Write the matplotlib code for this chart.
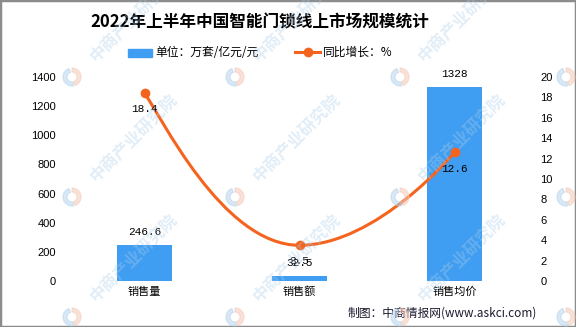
import matplotlib.pyplot as plt
from matplotlib.path import Path
from matplotlib.patches import PathPatch, Rectangle, Wedge
from matplotlib.lines import Line2D

plt.rcParams['font.family'] = ['Noto Sans CJK SC', 'DejaVu Sans']

# data
categories = ['销售量', '销售额', '销售均价']
values = [246.6, 32.5, 1328]
growth = [18.4, 3.5, 12.6]
left_ticks = [0, 200, 400, 600, 800, 1000, 1200, 1400]
right_ticks = [0, 2, 4, 6, 8, 10, 12, 14, 16, 18, 20]

bar_color = '#409ef2'
line_color = '#f5641e'

fig = plt.figure(figsize=(5.76, 3.27), dpi=100)
ax = fig.add_axes([67 / 576, 1 - 281 / 327, 465 / 576, 204 / 327])
ax2 = ax.twinx()

x = list(range(len(categories)))
ax.bar(x, values, width=0.355, color=bar_color, zorder=2)
for xi, v in zip(x, values):
    ax.annotate(f'{v:g}', (xi, v), xytext=(0, 6), textcoords='offset points',
                ha='center', va='bottom', fontsize=8, family='Liberation Mono')

ax.set_xlim(-0.5, 2.5)
ax.set_ylim(0, 1400)
ax.set_yticks(left_ticks)
ax.set_xticks(x)
ax.set_xticklabels(categories, fontsize=9)
ax2.set_ylim(0, 20)
ax2.set_yticks(right_ticks)

for a in (ax, ax2):
    for s in a.spines.values():
        s.set_visible(False)
    a.tick_params(length=0, labelsize=8)
    for lab in a.get_yticklabels():
        lab.set_family('Liberation Sans')
ax.tick_params(axis='y', pad=8)
ax.tick_params(axis='x', pad=4)
ax2.tick_params(axis='y', pad=6)

# smooth line (bezier through the points, horizontal tangent at the middle)
verts = [(x[0], growth[0]), (x[0] + 0.1, growth[0] - 2), (x[1] - 0.5, growth[1]), (x[1], growth[1]),
         (x[1] + 0.5, growth[1]), (x[2], growth[2]), (x[2], growth[2])]
codes = [Path.MOVETO] + [Path.CURVE4] * 6
ax2.add_patch(PathPatch(Path(verts, codes), fill=False, edgecolor=line_color, lw=2.2, zorder=3))
ax2.plot(x, growth, 'o', color=line_color, ms=6, zorder=4)
for xi, g in zip(x, growth):
    ax2.annotate(f'{g:g}', (xi, g), xytext=(0, -8), textcoords='offset points',
                 ha='center', va='top', fontsize=8, family='Liberation Mono')

# title and legend
fig.text(260 / 576, 1 - 22 / 327, '2022年上半年中国智能门锁线上市场规模统计',
         ha='center', va='center', fontsize=12, fontweight='bold')
fig.add_artist(Rectangle((128 / 576, 1 - 57 / 327), 24 / 576, 8 / 327,
                         transform=fig.transFigure, color=bar_color))
fig.text(155 / 576, 1 - 52 / 327, '单位：万套/亿元/元', ha='left', va='center', fontsize=8.5)
fig.add_artist(Line2D([295 / 576, 320 / 576], [1 - 52 / 327] * 2, transform=fig.transFigure,
                      color=line_color, lw=2.2))
fig.add_artist(Line2D([307.5 / 576], [1 - 52 / 327], transform=fig.transFigure,
                      color=line_color, marker='o', ms=6))
fig.text(323 / 576, 1 - 52 / 327, '同比增长：%', ha='left', va='center', fontsize=8.5)

# source
fig.text(537 / 576, 1 - 313 / 327, '制图：中商情报网(www.askci.com)', ha='right', va='center',
         fontsize=8.5, color='#1a1a2e')

# watermarks
for ly in [77, 197, 317]:
    for lx in [72, 235, 400, 566]:
        fig.add_artist(Wedge((lx, 327 - ly), 9, 110, 280, width=4, color='#b5d3ec',
                             alpha=0.5, transform=None, zorder=10))
        fig.add_artist(Wedge((lx, 327 - ly), 9, 290, 90, width=4, color='#f5c7b5',
                             alpha=0.5, transform=None, zorder=10))
        fig.text((lx + 62) / 576, 1 - (ly - 59) / 327, '中商产业研究院', rotation=45,
                 ha='center', va='center', fontsize=12, fontweight='bold',
                 color='#a9cde8', alpha=0.35, zorder=10)

fig.add_artist(Rectangle((0, 0), 1, 1, transform=fig.transFigure, fill=False,
                         edgecolor='#8c8c8c', lw=2.5))

fig.savefig('out.png', dpi=100)
